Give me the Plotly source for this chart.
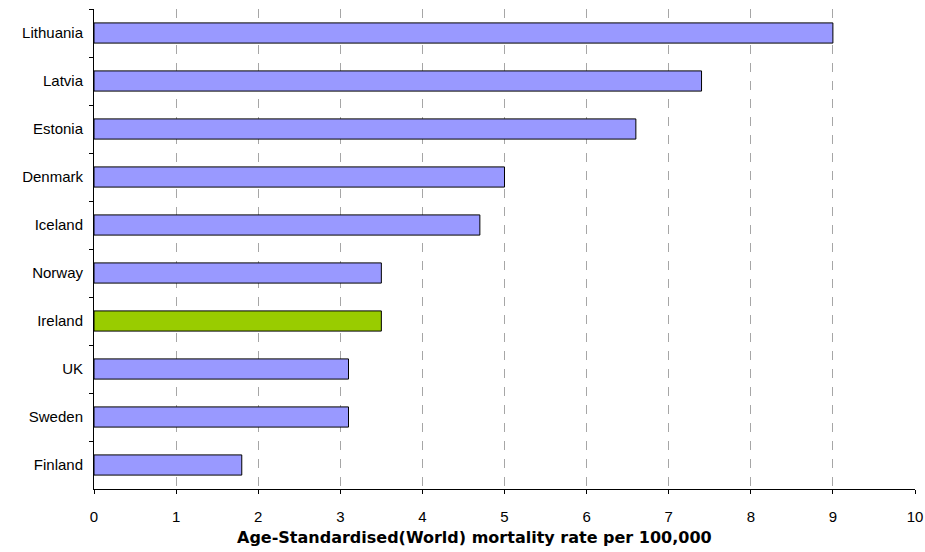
import plotly.graph_objects as go

countries = ["Lithuania", "Latvia", "Estonia", "Denmark", "Iceland",
             "Norway", "Ireland", "UK", "Sweden", "Finland"]
rates = [9.0, 7.4, 6.6, 5.0, 4.7, 3.5, 3.5, 3.1, 3.1, 1.8]
x_ticks = list(range(0, 11))
x_title = "Age-Standardised(World) mortality rate per 100,000"

bar_colors = ["#99CC00" if c == "Ireland" else "#9999FF" for c in countries]

fig = go.Figure(go.Bar(
    x=rates,
    y=countries,
    orientation="h",
    marker=dict(color=bar_colors, line=dict(color="#000000", width=1)),
    hoverinfo="x+y",
))

fig.update_layout(
    width=925,
    height=552,
    margin=dict(l=94, r=10, t=9, b=63),
    paper_bgcolor="white",
    plot_bgcolor="white",
    bargap=0.58,
    showlegend=False,
    font=dict(family="Liberation Sans, Arial, sans-serif", size=15, color="#000000"),
)

fig.update_xaxes(
    range=[0, 10],
    tickvals=x_ticks,
    ticktext=[str(v) for v in x_ticks],
    showgrid=True,
    gridcolor="#A6A6A6",
    griddash="dash",
    gridwidth=1,
    showline=True,
    linecolor="#000000",
    linewidth=1,
    ticks="outside",
    ticklen=4,
    tickcolor="#000000",
    ticklabelstandoff=10,
    zeroline=False,
    automargin=False,
    fixedrange=True,
)

fig.update_yaxes(
    autorange="reversed",
    showline=True,
    linecolor="#000000",
    linewidth=1,
    ticks="outside",
    tickson="boundaries",
    ticklen=4,
    tickcolor="#000000",
    ticklabelstandoff=7,
    showgrid=False,
    automargin=False,
    fixedrange=True,
)

# axis title, drawn as a bold annotation under the tick labels
fig.add_annotation(
    text="<b>" + x_title + "</b>",
    xref="paper", yref="paper",
    x=(474.5 - 94) / 821, y=-(537 - 489) / 480,
    xanchor="center", yanchor="middle",
    showarrow=False,
    font=dict(family="DejaVu Sans, Verdana, sans-serif", size=16, color="#000000"),
)

fig.write_html("out.html")
